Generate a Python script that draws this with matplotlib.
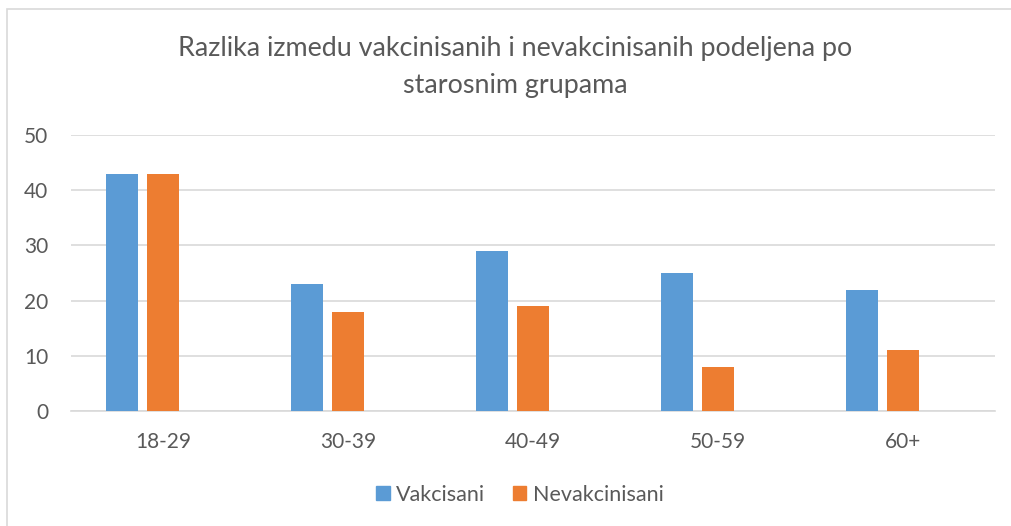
import matplotlib
matplotlib.use("Agg")
import matplotlib.pyplot as plt
from matplotlib.patches import Patch, Rectangle
import numpy as np

categories = ["18-29", "30-39", "40-49", "50-59", "60+"]
vakcisani = [43, 23, 29, 25, 22]
nevakcinisani = [43, 18, 19, 8, 11]
series_names = ["Vakcisani", "Nevakcinisani"]
title = "Razlika izmedu vakcinisanih i nevakcinisanih podeljena po\nstarosnim grupama"

blue = "#5b9bd5"
orange = "#ed7d31"
txt = "#595959"
grid = "#d9d9d9"

plt.rcParams['font.family'] = ['Lato', 'DejaVu Sans']

W, H = 1011, 526
fig = plt.figure(figsize=(W/100, H/100), dpi=100)
# chart border
fig.patches.append(Rectangle((7/W, -0.1), 1.2, 1 - 9/H + 0.1, transform=fig.transFigure,
                             fill=False, edgecolor="#d9d9d9", linewidth=1.2))

L, R, T, B = 71, 995, 135, 411
ax = fig.add_axes([L/W, 1 - B/H, (R-L)/W, (B-T)/H])
x = np.arange(len(categories))
slot = 41/184.8
bw = 32/184.8
ax.bar(x - slot, vakcisani, bw, color=blue, zorder=3)
ax.bar(x, nevakcinisani, bw, color=orange, zorder=3)

ax.set_xlim(-0.5, len(categories) - 0.5)
ax.set_ylim(0, 50)
ax.set_yticks(range(0, 51, 10))
ax.yaxis.grid(True, color=grid, linewidth=1.2, zorder=0)
for s in ["top", "right", "left"]:
    ax.spines[s].set_visible(False)
ax.spines["bottom"].set_color(grid)
ax.spines["bottom"].set_linewidth(1.2)
ax.set_xticks(x)
ax.set_xticklabels(categories)
ax.tick_params(axis="both", length=0, colors=txt, labelsize=15)
ax.tick_params(axis="x", pad=15)
ax.tick_params(axis="y", pad=16.5)

fig.text(515/W, 1 - 67/H, title, ha="center", va="center", fontsize=19.4,
         color=txt, linespacing=1.6)

handles = [Patch(color=blue), Patch(color=orange)]
fig.legend(handles, series_names, loc="center", bbox_to_anchor=(520/W, 1 - 495/H),
           ncol=2, frameon=False, fontsize=15.5, labelcolor=txt,
           handlelength=0.62, handleheight=0.62, handletextpad=0.3, columnspacing=1.3)

fig.savefig("out.png", dpi=100)
